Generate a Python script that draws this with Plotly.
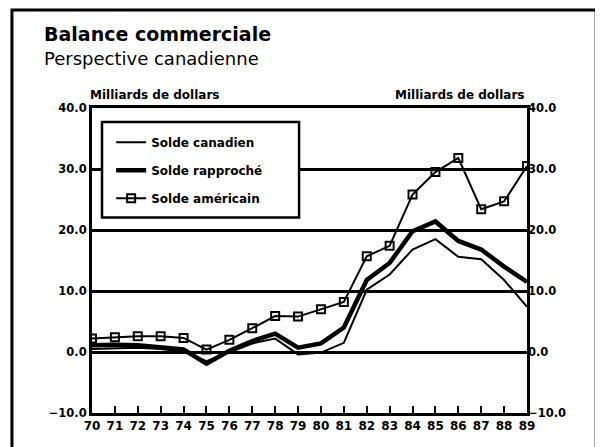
import plotly.graph_objects as go

years = list(range(70, 90))
year_labels = [str(y) for y in years]
solde_canadien = [0.5, 0.6, 0.7, 0.5, 0.1, -1.5, 0.0, 1.4, 2.2, -0.4, -0.1, 1.5, 10.2, 12.7, 16.8, 18.5, 15.6, 15.2, 11.8, 7.4]
solde_rapproche = [1.1, 1.2, 1.1, 0.8, 0.4, -1.9, 0.2, 1.8, 3.0, 0.7, 1.4, 4.0, 11.8, 14.6, 19.8, 21.4, 18.2, 16.8, 14.0, 11.5]
solde_americain = [2.2, 2.4, 2.6, 2.6, 2.3, 0.4, 2.0, 3.9, 5.9, 5.8, 7.0, 8.2, 15.7, 17.4, 25.8, 29.5, 31.8, 23.4, 24.7, 30.5]
y_ticks = [-10, 0, 10, 20, 30, 40]

FONT = "DejaVu Sans"
bold = dict(family=FONT, weight="bold", color="black")

fig = go.Figure()
fig.add_trace(go.Scatter(x=years, y=solde_canadien, mode="lines", name="Solde canadien",
                         line=dict(color="black", width=2), legendgroup="a"))
fig.add_trace(go.Scatter(x=years, y=solde_rapproche, mode="lines", name="Solde rapproché",
                         line=dict(color="black", width=4.5), legendgroup="b"))
fig.add_trace(go.Scatter(x=years, y=solde_americain, mode="lines+markers", name="Solde américain",
                         line=dict(color="black", width=2),
                         marker=dict(symbol="square-open", size=8, color="black", line=dict(width=2)),
                         legendgroup="c"))

fig.update_layout(
    width=603, height=447,
    margin=dict(l=84, r=84, t=100, b=42),
    paper_bgcolor="white", plot_bgcolor="white",
    showlegend=True,
    legend=dict(x=0.044, y=0.935, xanchor="left", yanchor="top",
                bgcolor="rgba(0,0,0,0)", borderwidth=0,
                font=dict(size=12, **bold), tracegroupgap=9),
    xaxis=dict(range=[70, 89], tickvals=years, ticktext=year_labels,
               showline=True, linecolor="black", linewidth=3, mirror=True,
               ticks="inside", ticklen=7, tickwidth=2, tickcolor="black",
               showgrid=False, zeroline=False,
               tickfont=dict(size=12, **bold)),
    yaxis=dict(range=[-10, 40], tickvals=y_ticks, tickformat=".1f",
               showline=True, linecolor="black", linewidth=3, mirror=True,
               showgrid=True, gridcolor="black", gridwidth=2.5,
               zeroline=True, zerolinecolor="black", zerolinewidth=3,
               ticks="", tickfont=dict(size=11.5, **bold)),
    yaxis2=dict(range=[-10, 40], tickvals=y_ticks, tickformat=".1f",
                overlaying="y", side="right", showgrid=False, zeroline=False,
                showline=False, ticks="", tickfont=dict(size=11.5, **bold)),
    shapes=[
        # legend box
        dict(type="rect", xref="paper", yref="paper", x0=0.023, x1=0.476, y0=0.641, y1=0.954,
             fillcolor="white", line=dict(color="black", width=2.5), layer="above"),
        # outer frame
        dict(type="rect", xref="paper", yref="paper", x0=-0.184, x1=1.159, y0=-0.2, y1=1.321,
             fillcolor="rgba(0,0,0,0)", line=dict(color="black", width=3), layer="above"),
    ],
    annotations=[
        dict(text="Balance commerciale", xref="paper", yref="paper", x=-0.115, y=1.243,
             xanchor="left", yanchor="middle", showarrow=False, font=dict(size=19, **bold)),
        dict(text="Perspective canadienne", xref="paper", yref="paper", x=-0.115, y=1.161,
             xanchor="left", yanchor="middle", showarrow=False,
             font=dict(size=18, family=FONT, color="black")),
        dict(text="Milliards de dollars", xref="paper", yref="paper", x=-0.009, y=1.043,
             xanchor="left", yanchor="middle", showarrow=False, font=dict(size=12, **bold)),
        dict(text="Milliards de dollars", xref="paper", yref="paper", x=0.997, y=1.043,
             xanchor="right", yanchor="middle", showarrow=False, font=dict(size=12, **bold)),
    ],
)
# invisible anchor trace so the right axis is drawn
fig.add_trace(go.Scatter(x=[years[0]], y=[y_ticks[0]], yaxis="y2", mode="markers",
                         marker=dict(opacity=0), showlegend=False, hoverinfo="skip"))

fig.write_html("out.html")
